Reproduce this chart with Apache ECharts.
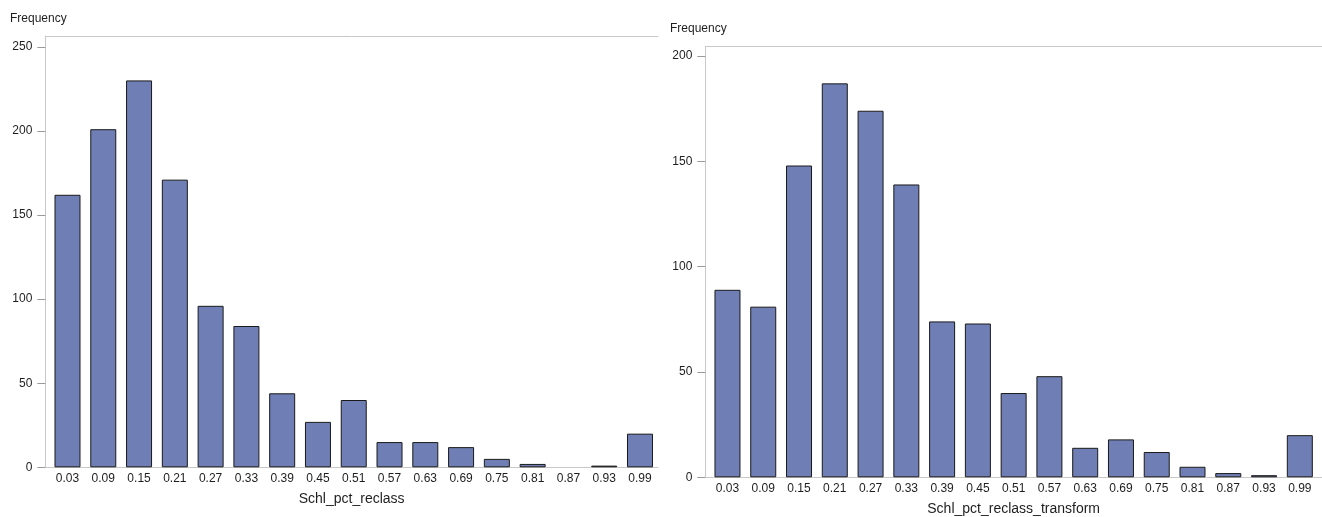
<!DOCTYPE html>
<html>
<head>
<meta charset="utf-8">
<script src="https://cdn.jsdelivr.net/npm/echarts@6/dist/echarts.min.js"></script>
<style>
html,body{margin:0;padding:0;background:#fff;}
#c{width:1322px;height:517px;}
</style>
</head>
<body>
<div id="c"></div>
<script>
var binLabels = ['0.03','0.09','0.15','0.21','0.27','0.33','0.39','0.45','0.51','0.57','0.63','0.69','0.75','0.81','0.87','0.93','0.99'];
var freqReclass = [162,201,230,171,96,84,44,27,40,15,15,12,5,2,0,1,20];
var freqTransform = [89,81,148,187,174,139,74,73,40,48,14,18,12,5,2,1,20];
var yTicksLeft = [0,50,100,150,200,250];
var yTicksRight = [0,50,100,150,200];
var xNameLeft = 'Schl_pct_reclass';
var xNameRight = 'Schl_pct_reclass_transform';
var yTitle = 'Frequency';

var binValues = binLabels.map(Number);
var FONT = '"Liberation Sans", Arial, sans-serif';
var TXT = '#1e1e1e';
var AXIS = '#c8c8c8';
var TICK = '#9a9a9a';
var FILL = '#6f7eb4';

function items(vals){
  return binValues.map(function(b,i){
    var it = {value:[b, vals[i]]};
    if (vals[i] === 0) it.itemStyle = {borderWidth:0, opacity:0};
    return it;
  });
}

function xAxisBottom(gi, name, max){
  return {
    type:'value', gridIndex:gi, min:-0.0072, max:max,
    name:name, nameLocation:'middle', nameGap:25,
    nameTextStyle:{fontFamily:FONT,fontSize:14,color:TXT},
    axisLine:{show:true,onZero:false,lineStyle:{color:AXIS,width:1}},
    axisTick:{show:false},
    splitLine:{show:false},
    axisLabel:{customValues:binValues,fontFamily:FONT,fontSize:12,color:TXT,margin:5,
      formatter:function(v){ return v.toFixed(2); }}
  };
}
function xAxisTop(gi, max){
  return {
    type:'value', gridIndex:gi, position:'top', min:-0.0072, max:max,
    axisLine:{show:true,onZero:false,lineStyle:{color:AXIS,width:1}},
    axisTick:{show:false}, axisLabel:{show:false}, splitLine:{show:false}
  };
}
function yAxis(gi, max, ticks){
  return {
    type:'value', gridIndex:gi, min:0, max:max,
    axisLine:{show:true,onZero:false,lineStyle:{color:AXIS,width:1}},
    axisTick:{show:true,length:8,customValues:ticks,lineStyle:{color:TICK,width:1}},
    splitLine:{show:false},
    axisLabel:{customValues:ticks,fontFamily:FONT,fontSize:12,color:TXT,margin:13}
  };
}
function barSeries(xi, yi, vals){
  return {
    type:'bar', xAxisIndex:xi, yAxisIndex:yi, data:items(vals),
    barWidth:26, silent:true,
    itemStyle:{color:FILL,borderColor:'#1a1a1a',borderWidth:1}
  };
}

var chart = echarts.init(document.getElementById('c'), null, {renderer:'canvas'});
chart.setOption({
  animation:false,
  backgroundColor:'#fff',
  title:[
    {text:yTitle,left:10,top:13,padding:0,textStyle:{fontFamily:FONT,fontSize:12,fontWeight:'normal',color:TXT}},
    {text:yTitle,left:670,top:23,padding:0,textStyle:{fontFamily:FONT,fontSize:12,fontWeight:'normal',color:TXT}}
  ],
  grid:[
    {left:45.3,top:36,width:612.7,height:431.3,containLabel:false,outerBoundsMode:'none'},
    {left:705.3,top:46.7,width:616.7,height:430.6,containLabel:false,outerBoundsMode:'none'}
  ],
  xAxis:[
    xAxisBottom(0,xNameLeft,1.0202),
    xAxisBottom(1,xNameRight,1.0272),
    xAxisTop(0,1.0202),
    xAxisTop(1,1.0272)
  ],
  yAxis:[
    yAxis(0,256.4,yTicksLeft),
    yAxis(1,204.4,yTicksRight)
  ],
  series:[
    barSeries(0,0,freqReclass),
    barSeries(1,1,freqTransform)
  ]
});
</script>
</body>
</html>
